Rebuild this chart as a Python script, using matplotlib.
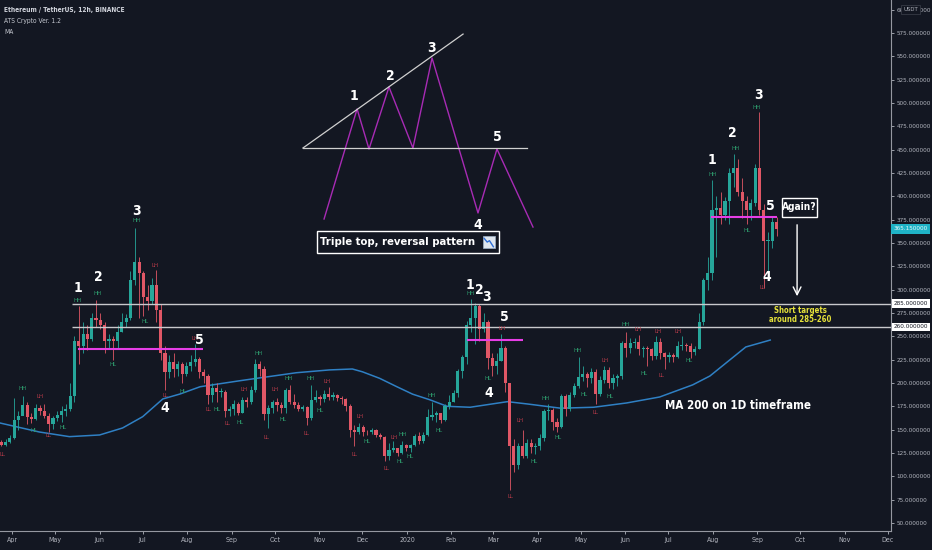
import os
import numpy as np
import matplotlib
matplotlib.use('Agg')
import matplotlib.pyplot as plt
from matplotlib import font_manager
from matplotlib.font_manager import FontProperties
from matplotlib.patches import Rectangle


def find_font(candidates):
    files = [f.fname for f in font_manager.fontManager.ttflist]
    for key in candidates:
        for fn in files:
            if os.path.basename(fn).lower() == key:
                return fn
    return None


NAR_REG = find_font(['liberationsansnarrow-regular.ttf', 'dejavusanscondensed.ttf',
                     'robotocondensed-regular.ttf', 'opensans_condensed-regular.ttf'])
NAR_BOLD = find_font(['liberationsansnarrow-bold.ttf', 'dejavusanscondensed-bold.ttf',
                      'robotocondensed-bold.ttf', 'opensans_condensed-bold.ttf'])


def fp(size, bold=False):
    fn = NAR_BOLD if bold else NAR_REG
    if fn:
        return FontProperties(fname=fn, size=size)
    return FontProperties(family=['Lato', 'DejaVu Sans'], weight='bold' if bold else 'normal',
                          size=size * 0.97)


BG = '#131722'
AXC = '#b2b5be'
UP = '#26a69a'
DN = '#e05766'
GREEN_LBL = '#2e9c6e'
RED_LBL = '#b53a48'

BASE = np.datetime64('2019-04-01')


def d(s):
    return float((np.datetime64(s) - BASE) / np.timedelta64(1, 'D'))


# ---------------- data (3-day candles, ETH/USDT) ----------------
CANDLE_START = '2019-03-23'
CANDLE_DAYS = 3
first_open = 137
closes = [134, 137, 141, 160, 165, 176, 164, 161, 173, 170,
          165, 156, 162, 166, 170, 172, 186, 245, 240, 252,
          247, 270, 268, 262, 245, 247, 245, 255, 265, 270,
          310, 330, 318, 292, 288, 305, 278, 232, 212, 222,
          215, 220, 210, 218, 222, 226, 212, 207, 187, 195,
          190, 190, 170, 172, 178, 168, 182, 180, 192, 220,
          215, 167, 173, 180, 176, 173, 192, 180, 176, 172,
          174, 162, 182, 185, 183, 188, 185, 187, 184, 183,
          175, 150, 147, 153, 148, 147, 150, 144, 142, 122,
          128, 130, 125, 134, 130, 134, 143, 138, 144, 164,
          166, 168, 160, 175, 180, 189, 213, 228, 262, 270,
          282, 258, 265, 227, 218, 224, 238, 200, 133, 112,
          133, 122, 136, 131, 133, 141, 170, 171, 158, 153,
          186, 172, 187, 197, 206, 210, 205, 212, 188, 203,
          214, 200, 205, 208, 243, 237, 243, 244, 236, 237,
          236, 229, 244, 232, 228, 230, 228, 240, 241, 240,
          233, 236, 265, 310, 318, 385, 388, 380, 395, 425,
          430, 405, 395, 385, 393, 430, 385, 352, 352, 372,
          365.15]
highs = [139, 140, 144, 184, 170, 186, 180, 168, 177, 176,
         178, 168, 165, 170, 175, 177, 200, 250, 283, 265,
         262, 275, 289, 275, 265, 252, 250, 262, 275, 274,
         320, 366, 335, 320, 305, 313, 321, 285, 240, 230,
         232, 224, 222, 222, 230, 242, 228, 215, 210, 200,
         200, 195, 192, 175, 182, 180, 185, 185, 197, 226,
         224, 218, 176, 182, 184, 180, 195, 198, 188, 180,
         176, 175, 198, 192, 187, 193, 196, 190, 188, 186,
         184, 177, 155, 157, 155, 150, 152, 151, 146, 143,
         136, 138, 130, 138, 135, 135, 145, 147, 148, 172,
         180, 170, 168, 177, 187, 193, 215, 230, 266, 290,
         286, 285, 275, 267, 232, 232, 252, 240, 200, 140,
         136, 150, 140, 140, 136, 145, 172, 177, 173, 162,
         188, 188, 190, 200, 228, 218, 212, 216, 215, 207,
         218, 217, 210, 210, 245, 255, 248, 248, 251, 240,
         240, 238, 250, 248, 233, 233, 232, 245, 250, 243,
         243, 240, 275, 312, 335, 417, 400, 405, 399, 430,
         445, 440, 420, 400, 397, 435, 490, 392, 362, 378,
         378]
lows = [132, 133, 136, 140, 150, 170, 156, 157, 160, 166,
        162, 148, 151, 159, 158, 165, 170, 180, 220, 232,
        235, 245, 260, 258, 232, 238, 225, 238, 255, 260,
        268, 305, 270, 272, 278, 285, 265, 225, 192, 205,
        206, 207, 200, 208, 213, 218, 205, 200, 178, 180,
        180, 185, 164, 165, 166, 166, 168, 174, 178, 190,
        208, 160, 152, 168, 170, 168, 168, 178, 173, 170,
        170, 155, 160, 180, 176, 180, 182, 182, 181, 178,
        170, 142, 132, 145, 143, 144, 145, 142, 140, 116,
        118, 126, 122, 124, 127, 126, 133, 135, 136, 143,
        160, 158, 157, 159, 172, 180, 185, 205, 220, 255,
        242, 245, 255, 215, 208, 210, 224, 190, 85, 105,
        108, 120, 120, 125, 124, 128, 138, 160, 150, 148,
        152, 165, 170, 185, 195, 202, 196, 200, 177, 186,
        200, 195, 194, 197, 204, 228, 232, 237, 230, 228,
        218, 225, 226, 226, 215, 222, 223, 227, 235, 234,
        227, 230, 236, 262, 300, 310, 335, 370, 375, 370,
        410, 400, 377, 370, 375, 390, 380, 302, 318, 345,
        358]

# MA 200 (1D)
ma_dates = ['2019-03-24', '2019-04-20', '2019-05-11', '2019-06-01', '2019-06-17',
            '2019-07-01', '2019-07-15', '2019-07-27', '2019-08-10', '2019-09-07',
            '2019-09-23', '2019-10-16', '2019-11-08', '2019-11-24', '2019-12-01',
            '2019-12-13', '2019-12-25', '2020-01-05', '2020-01-17', '2020-01-29',
            '2020-02-14', '2020-03-11', '2020-03-25', '2020-04-17', '2020-05-10',
            '2020-06-02', '2020-06-25', '2020-07-18', '2020-07-30', '2020-08-24',
            '2020-09-10']
ma_values = [157, 147.5, 142.5, 144.3, 151.8, 163.9, 182.9, 188.2, 196, 202.5,
             206, 211, 214, 215, 212, 205, 196, 188, 182, 175,
             174, 180, 177.5, 173, 174, 178.6, 185, 198, 207.5, 238.6,
             246]

# key levels
level_prices = [285, 260]
level_start = '2019-05-13'
level_tags = ['285.000000', '260.000000']
last_price = 365.15

# neckline markers (magenta)
neck_start = ['2019-05-17', '2020-02-12', '2020-07-31']
neck_end = ['2019-08-12', '2020-03-22', '2020-09-15']
neck_price = [236, 246, 378]

# wave numbers on the price (days since 2019-04-01)
wave_text = ['1', '2', '3', '4', '5'] * 3
wave_days = [46.0, 59.9, 86.4, 106.5, 130.2,
             318.9, 325.2, 330.1, 332.2, 342.6,
             487.5, 501.4, 519.5, 525.8, 527.9]
wave_prices = [301.8, 313.6, 384.3, 173.2, 246.1,
               305.0, 299.6, 292.2, 189.3, 270.7,
               438.9, 467.9, 508.6, 313.6, 389.6]

# swing-structure labels
swing_text = ['LL', 'HH', 'HL', 'LH', 'LL', 'HL', 'HH', 'HH', 'HL', 'HH',
              'HL', 'LH', 'LL', 'HL', 'LH', 'LL', 'HL', 'LL', 'HL', 'LH',
              'HH', 'LL', 'LH', 'HL', 'HH', 'LL', 'HH', 'HL', 'LH', 'LL',
              'LH', 'HL', 'LL', 'LH', 'HL', 'HH', 'HL', 'HH', 'HL', 'HH',
              'HL', 'LH', 'LL', 'LH', 'HL', 'HH', 'HL', 'HH', 'HL', 'LL',
              'LH', 'HL', 'HH', 'LH', 'HL', 'LH', 'LL', 'LH', 'HL', 'HH',
              'HH', 'HL', 'HH', 'LL']
swing_days = [-6.3, 7.7, 15.3, 19.5, 25.1, 35.5, 46.0, 59.9, 70.3, 87.0,
              92.6, 99.6, 107.2, 119.1, 127.4, 136.5, 142.8, 150.4, 158.8, 161.6,
              172.0, 176.9, 183.1, 188.7, 192.9, 205.4, 208.2, 214.5, 219.4, 238.2,
              242.3, 247.2, 261.1, 266.0, 270.2, 272.3, 277.2, 292.5, 297.4, 319.6,
              331.5, 341.2, 346.8, 353.8, 363.5, 371.9, 380.2, 394.2, 398.3, 406.0,
              413.0, 416.4, 427.6, 435.9, 440.1, 449.9, 452.6, 463.8, 471.4, 488.2,
              504.2, 511.8, 518.8, 522.3]
swing_prices = [122.9, 193.6, 149.6, 185.0, 143.2, 151.8, 287.9, 295.4, 219.3, 373.6,
                266.4, 325.4, 186.1, 190.4, 248.2, 171.1, 172.1, 156.1, 158.2, 192.5,
                232.1, 142.1, 192.5, 161.4, 204.3, 146.4, 204.3, 170.0, 202.1, 123.9,
                164.6, 136.8, 108.9, 142.1, 115.4, 144.3, 120.7, 186.1, 149.6, 295.4,
                204.3, 257.9, 77.9, 159.3, 116.4, 183.9, 141.1, 234.3, 188.2, 167.9,
                223.6, 185.0, 262.2, 256.8, 210.7, 255.7, 207.5, 255.7, 223.6, 422.9,
                451.8, 362.9, 495.7, 301.8]

# schematic triple-top sketch
sketch_days = [217.3, 240.3, 248.6, 262.5, 279.2, 292.5, 324.5, 337.7, 362.8]
sketch_prices = [375.7, 493.6, 450.7, 517.2, 451.8, 548.2, 382.2, 450.7, 367.1]
sketch_trend_days = [202.6, 314.1]
sketch_trend_prices = [451.8, 573.9]
sketch_neck_days = [202.6, 358.6]
sketch_neck_price = 451.8
sketch_label_days = [238.2, 263.2, 291.8, 324.5, 337.7]
sketch_label_prices = [507.5, 528.9, 558.9, 369.3, 463.6]
sketch_label_text = ['1', '2', '3', '4', '5']

month_dates = ['2019-04-01', '2019-05-01', '2019-06-01', '2019-07-01', '2019-08-01',
               '2019-09-01', '2019-10-01', '2019-11-01', '2019-12-01', '2020-01-01',
               '2020-02-01', '2020-03-01', '2020-04-01', '2020-05-01', '2020-06-01',
               '2020-07-01', '2020-08-01', '2020-09-01', '2020-10-01', '2020-11-01',
               '2020-12-01']
month_labels = ['Apr', 'May', 'Jun', 'Jul', 'Aug', 'Sep', 'Oct', 'Nov', 'Dec', '2020',
                'Feb', 'Mar', 'Apr', 'May', 'Jun', 'Jul', 'Aug', 'Sep', 'Oct', 'Nov', 'Dec']
price_ticks = list(range(50, 601, 25))

# ---------------- figure ----------------
W, H = 932, 550
fig = plt.figure(figsize=(W / 100, H / 100), dpi=100, facecolor=BG)
ax = fig.add_axes([0, 19 / H, 891 / W, 531 / H])
ax.set_facecolor(BG)
XMIN, XMAX = -8.36, 612.1
ax.set_xlim(XMIN, XMAX)
ax.set_ylim(41.4, 610.4)

# candles
closes_a = np.array(closes, float)
opens_a = np.r_[first_open, closes_a[:-1]]
xs = d(CANDLE_START) + np.arange(len(closes_a)) * CANDLE_DAYS + CANDLE_DAYS / 2
up = closes_a >= opens_a
cols = np.where(up, UP, DN)
ax.vlines(xs, lows, highs, colors=cols, lw=0.6, zorder=3)
body = np.maximum(np.abs(closes_a - opens_a), 1.0)
ax.bar(xs, body, bottom=np.minimum(opens_a, closes_a), width=2.2, color=cols,
       linewidth=0, zorder=4)

# MA
ax.plot([d(s) for s in ma_dates], ma_values, color='#2f80c4', lw=1.1, zorder=2)

# key levels
for p in level_prices:
    ax.hlines(p, d(level_start), XMAX, color='#c8c9cc', lw=1.0, zorder=5)

# neckline markers
for s, e, p in zip(neck_start, neck_end, neck_price):
    ax.hlines(p, d(s), d(e), color='#e63ee6', lw=1.5, zorder=6)

# swing labels
for t, x, y in zip(swing_text, swing_days, swing_prices):
    c = GREEN_LBL if t in ('HH', 'HL') else RED_LBL
    ax.text(x, y, t, color=c, fontproperties=fp(4.4), ha='center', va='center', zorder=7)

# wave numbers
for t, x, y in zip(wave_text, wave_days, wave_prices):
    ax.text(x, y, t, color='white', fontproperties=fp(10, True),
            ha='center', va='center', zorder=8)

# sketch
ax.plot(sketch_days, sketch_prices, color='#a82bb5', lw=1.0, zorder=6)
ax.plot(sketch_trend_days, sketch_trend_prices, color='#d0d0d0', lw=0.9, zorder=6)
ax.plot(sketch_neck_days, [sketch_neck_price] * 2, color='#d0d0d0', lw=0.9, zorder=6)
for t, x, y in zip(sketch_label_text, sketch_label_days, sketch_label_prices):
    ax.text(x, y, t, color='white', fontproperties=fp(10, True),
            ha='center', va='center', zorder=8)

# Triple top box
ax.add_patch(Rectangle((212.4, 339.3), 339.1 - 212.4, 362.9 - 339.3, facecolor=BG,
                       edgecolor='white', lw=1.0, zorder=9))
ax.text(214.2, 351.1, 'Triple top, reversal pattern', color='white', fontproperties=fp(8.1, True),
        ha='left', va='center', zorder=10)
ax.add_patch(Rectangle((327.8, 344.3), 8.2, 12.9, facecolor='#dfe6ee', edgecolor='#9fb3c8',
                       lw=0.5, zorder=10))
ax.plot([328.8, 330.9, 332.5, 335.2], [355.0, 351.0, 352.5, 346.0], color='#2f6fd6',
        lw=1.0, zorder=11)

# Again? box + arrow
ax.add_patch(Rectangle((536.2, 377.9), 560.6 - 536.2, 398.2 - 377.9, facecolor=BG,
                       edgecolor='white', lw=1.0, zorder=9))
ax.text(548.4, 388.2, 'Again?', color='white', fontproperties=fp(7.3, True),
        ha='center', va='center', zorder=10)
ax.annotate('', xy=(546.7, 290.0), xytext=(546.7, 372.5),
            arrowprops=dict(arrowstyle='->', color='white', lw=1.0, mutation_scale=14),
            zorder=9)
ax.text(548.7, 273.0, 'Short targets\naround 285-260', color='#e6e23a', fontproperties=fp(5.6, True),
        ha='center', va='center', linespacing=1.1, zorder=10)

ax.text(454.7, 176.4, 'MA 200 on 1D timeframe', color='white', fontproperties=fp(8.3, True),
        ha='left', va='center', zorder=10)

# axes styling
for side in ('top', 'left'):
    ax.spines[side].set_visible(False)
for side in ('right', 'bottom'):
    ax.spines[side].set_color('#9598a1')
    ax.spines[side].set_linewidth(0.8)
ax.yaxis.tick_right()
ax.set_yticks(price_ticks)
ax.set_yticklabels(['%.6f' % v for v in price_ticks])
ax.set_xticks([d(s) for s in month_dates])
ax.set_xticklabels(month_labels)
ax.tick_params(axis='y', colors=AXC, length=2.5, width=0.6, pad=1.5)
ax.tick_params(axis='x', colors=AXC, length=2.5, width=0.6, pad=2)
for lbl in ax.get_yticklabels():
    lbl.set_fontproperties(fp(4.6))
for lbl in ax.get_xticklabels():
    lbl.set_fontproperties(fp(5.0))

ytr = ax.get_yaxis_transform()
for p, tag in zip(level_prices, level_tags):
    ax.text(1.003, p, tag, transform=ytr, color='#131722', fontproperties=fp(4.6),
            ha='left', va='center', zorder=20, clip_on=False,
            bbox=dict(boxstyle='square,pad=0.3', facecolor='white', edgecolor='none'))
ax.text(1.003, last_price, '%.6f' % last_price, transform=ytr, color='#e8f8fa',
        fontproperties=fp(4.6), ha='left', va='center', zorder=20, clip_on=False,
        bbox=dict(boxstyle='square,pad=0.35', facecolor='#1fb3c6', edgecolor='none'))
ax.text(1.014, 600, 'USDT', transform=ytr, color=AXC, fontproperties=fp(4.2),
        ha='left', va='center', zorder=20, clip_on=False,
        bbox=dict(boxstyle='square,pad=0.35', facecolor=BG, edgecolor='#363a45', lw=0.6))

# header
fig.text(4 / W, 1 - 10 / H, 'Ethereum / TetherUS, 12h, BINANCE', color='#d1d4dc',
         fontproperties=fp(4.8, True), ha='left', va='center')
fig.text(4 / W, 1 - 21 / H, 'ATS Crypto Ver. 1.2', color='#c5c8d0', fontproperties=fp(4.8),
         ha='left', va='center')
fig.text(4 / W, 1 - 32 / H, 'MA', color='#c5c8d0', fontproperties=fp(4.8),
         ha='left', va='center')

fig.savefig('out.png', dpi=100, facecolor=BG)
